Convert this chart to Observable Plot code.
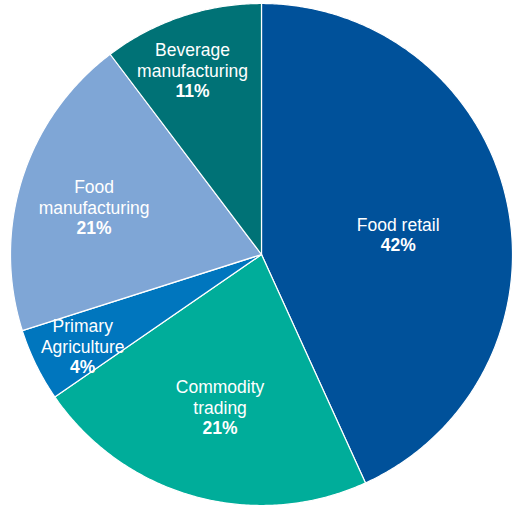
<!DOCTYPE html>
<html>
<head>
<meta charset="utf-8">
<script src="https://cdn.jsdelivr.net/npm/d3@7"></script>
<script src="https://cdn.jsdelivr.net/npm/@observablehq/plot@0.6"></script>
<style>
  html, body { margin: 0; padding: 0; background: #fff; }
  #chart svg { display: block; }
</style>
</head>
<body>
<div id="chart"></div>
<script>
// Data (slice shares as drawn, printed labels)
const categories = ["Food retail", "Commodity trading", "Primary Agriculture", "Food manufacturing", "Beverage manufacturing"];
const shares = [43.2, 22.2, 4.7, 19.6, 10.3];
const nameLabels = ["Food retail", "Commodity\ntrading", "Primary\nAgriculture", "Food\nmanufacturing", "Beverage\nmanufacturing"];
const pctLabels = ["42%", "21%", "4%", "21%", "11%"];
const colors = ["#00519a", "#00ad9a", "#0076be", "#7fa6d6", "#007276"];

// Layout (label placement: radial fraction and angular nudge, per slice)
const W = 516, H = 505, R = 251;
const labelRadius = [0.55, 0.63, 0.80, 0.693, 0.783];
const labelNudgeDeg = [4.2, -0.3, -1, -1.9, -2];
const lineGap = 21;

const arcs = d3.pie().sort(null).value(d => d)(shares);

const polys = [];
arcs.forEach((a, i) => {
  const name = categories[i];
  polys.push({name, x: 0, y: 0});
  const steps = Math.max(2, Math.ceil((a.endAngle - a.startAngle) / (Math.PI / 360)));
  for (let k = 0; k <= steps; k++) {
    const t = a.startAngle + (a.endAngle - a.startAngle) * k / steps;
    polys.push({name, x: R * Math.sin(t), y: R * Math.cos(t)});
  }
  polys.push({name, x: 0, y: 0});
});

const labels = arcs.map((a, i) => {
  const m = (a.startAngle + a.endAngle) / 2 + labelNudgeDeg[i] * Math.PI / 180;
  const r = labelRadius[i] * R;
  const cx = r * Math.sin(m), cy = r * Math.cos(m);
  const n = nameLabels[i].split("\n").length + 1;
  return {
    name: nameLabels[i],
    pct: pctLabels[i],
    x: cx,
    yName: cy + lineGap / 2,
    yPct: cy - (n - 1) * lineGap / 2
  };
});

const font = "'Liberation Sans', Arial, sans-serif";

const chart = Plot.plot({
  width: W,
  height: H,
  margin: 0,
  style: {background: "#fff"},
  x: {domain: [-261, 255], axis: null},
  y: {domain: [-251, 254], axis: null},
  color: {domain: categories, range: colors},
  marks: [
    Plot.line(polys, {x: "x", y: "y", z: "name", fill: "name", stroke: "white", strokeWidth: 1.2, curve: "linear"}),
    Plot.text(labels, {x: "x", y: "yName", text: "name", fill: "white", fontSize: 17.5, fontFamily: font, lineHeight: 1.2, lineAnchor: "middle"}),
    Plot.text(labels, {x: "x", y: "yPct", text: "pct", fill: "white", fontSize: 17.5, fontWeight: "bold", fontFamily: font, lineAnchor: "middle"})
  ]
});
document.getElementById("chart").appendChild(chart);
</script>
</body>
</html>
